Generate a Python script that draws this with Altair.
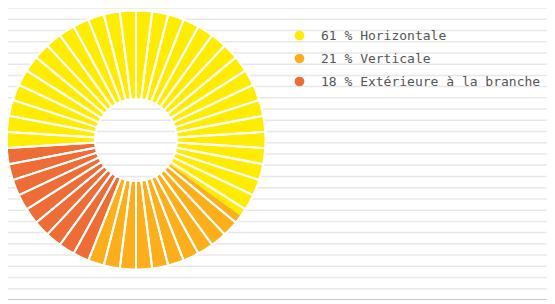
import math
import altair as alt
import pandas as pd

# Data
labels = ["61 % Horizontale", "21 % Verticale", "18 % Extérieure à la branche"]
values = [61, 21, 18]
colors = ["#FFEC00", "#FCAF1B", "#EE6C35"]
segments = list(range(50))      # equal slices separated by white gaps
grid_levels = list(range(27))   # ruled background lines

W, H = 539, 292
CX, CY = 128, 132
R_OUT, R_IN = 129.5, 41
start = math.radians(-93.6)

pie_df = pd.DataFrame({"label": labels, "value": values, "order": [0, 1, 2]})
seg_df = pd.DataFrame({"seg": segments, "one": [1] * len(segments)})
grid_df = pd.DataFrame({"lvl": grid_levels})

grid = alt.Chart(grid_df).mark_rule(strokeWidth=1.5).encode(
    y=alt.Y("lvl:Q", scale=alt.Scale(domain=[0, 26], nice=False), axis=None),
    x=alt.value(0),
    x2=alt.value(W),
    color=alt.condition(alt.datum.lvl == 0, alt.value("#b8b8b8"), alt.value("#e8e8e8")),
)

pie = alt.Chart(pie_df).mark_arc(outerRadius=R_OUT, innerRadius=R_IN).encode(
    theta=alt.Theta("value:Q", stack=True,
                    scale=alt.Scale(range=[start, start + 2 * math.pi])),
    color=alt.Color("label:N",
                    scale=alt.Scale(domain=labels, range=colors),
                    sort=labels,
                    legend=alt.Legend(title=None, orient="none", legendX=285, legendY=21,
                                      symbolType="circle", symbolSize=95,
                                      symbolStrokeWidth=0, symbolOpacity=1,
                                      labelFont="DejaVu Sans Mono", labelFontSize=13,
                                      labelColor="#555555", labelOffset=15,
                                      labelLimit=400,
                                      rowPadding=9, padding=0)),
    order=alt.Order("order:Q"),
    x=alt.value(CX),
    y=alt.value(CY),
)

gaps = alt.Chart(seg_df).mark_arc(outerRadius=R_OUT, innerRadius=R_IN,
                                  color="white", fillOpacity=0,
                                  stroke="white", strokeWidth=2).encode(
    theta=alt.Theta("one:Q", stack=True,
                    scale=alt.Scale(range=[0, 2 * math.pi])),
    order=alt.Order("seg:Q"),
    x=alt.value(CX),
    y=alt.value(CY),
)

chart = alt.layer(grid, pie, gaps).resolve_scale(theta="independent").properties(
    width=W, height=H,
    padding={"left": 0, "right": 0, "top": 0, "bottom": 0},
    autosize=alt.AutoSizeParams(type="none"),
    background="white",
).configure_view(stroke=None)

chart.save("out.html", embed_options={"renderer": "svg", "actions": False})
